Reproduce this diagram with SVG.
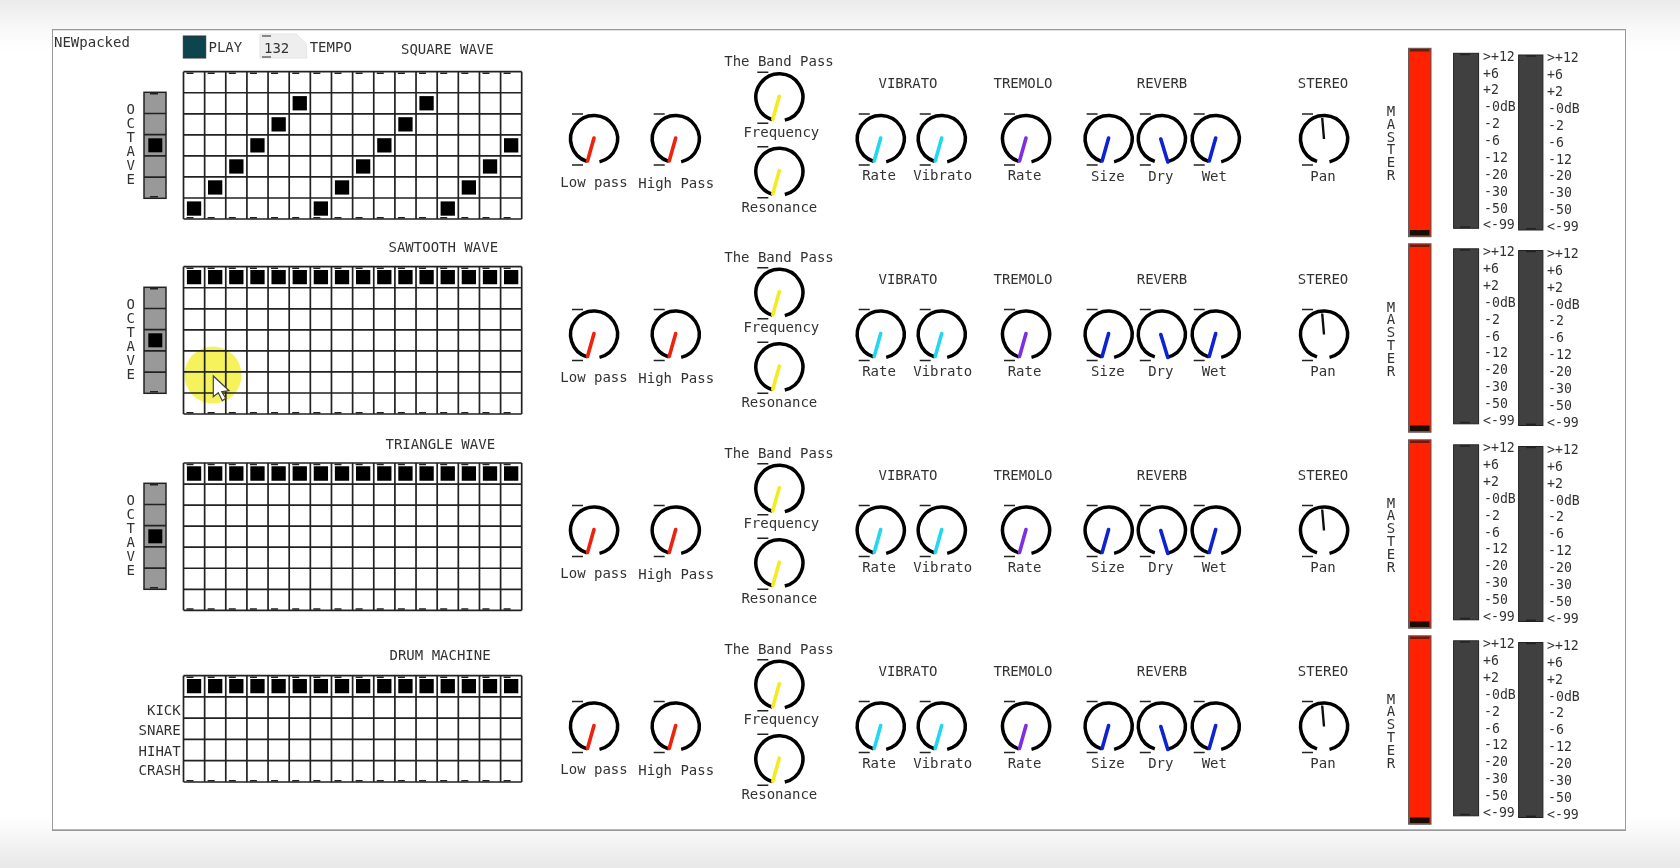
<svg xmlns="http://www.w3.org/2000/svg" width="1680" height="868" viewBox="0 0 1680 868">
<style>
text{font-family:"DejaVu Sans Mono","Liberation Mono",monospace;font-size:14px;fill:#333}
.c{text-anchor:middle}
.r{text-anchor:end}
.v{font-size:13.2px}
.ring{fill:none;stroke:#000;stroke-width:3.5}
.tick{fill:none;stroke:#222;stroke-width:1.6}
.nd{fill:none;stroke-width:3.6;stroke-linecap:round}
.red{stroke:#ee2010}.yel{stroke:#f2ec20}.cya{stroke:#20d8f0}.pur{stroke:#7f2fe0}.blu{stroke:#1020d0}
.gl{fill:none;stroke:#222;stroke-width:1.7}
.dash{stroke:#222;stroke-width:1.6;stroke-dasharray:7 14.14}
.mk{fill:#000}
.full{stroke:#000;stroke-width:14.3;stroke-dasharray:14.3 6.84}
.oct{fill:#999;stroke:#222;stroke-width:1.5}
.fader{fill:#ff2200;stroke:#555;stroke-width:1}
.vu{fill:#404040;stroke:#222;stroke-width:1}
</style>
<defs>
<linearGradient id="bg" x1="0" y1="0" x2="0" y2="1"><stop offset="0" stop-color="#ebebeb"/><stop offset=".035" stop-color="#f9f9f9"/><stop offset=".06" stop-color="#fff"/><stop offset=".94" stop-color="#fff"/><stop offset=".96" stop-color="#f8f8f8"/><stop offset="1" stop-color="#e8e8e8"/></linearGradient>
<filter id="soft" x="0" y="0" width="100%" height="100%"><feGaussianBlur stdDeviation="0.4"/></filter>
<g id="knob"><path class="ring" d="M-7 22.4A23.5 23.5 0 1 1 5.5 22.85"/><path class="tick" d="M-22-25h11M-22 26h11"/></g>
<line id="nL" class="nd" x1="0" y1="-1" x2="-6.5" y2="22"/>
<line id="nR" class="nd" x1="-1" y1="0" x2="6" y2="23"/>
<g id="g7"><path class="gl" d="M0 0V147.3M21.14 0V147.3M42.28 0V147.3M63.42 0V147.3M84.56 0V147.3M105.7 0V147.3M126.84 0V147.3M147.98 0V147.3M169.12 0V147.3M190.26 0V147.3M211.4 0V147.3M232.54 0V147.3M253.68 0V147.3M274.82 0V147.3M295.96 0V147.3M317.1 0V147.3M338.2 0V147.3M0 0H338.2M0 21.05H338.2M0 42.1H338.2M0 63.15H338.2M0 84.2H338.2M0 105.25H338.2M0 126.3H338.2M0 147.3H338.2"/><line class="dash" x1="3" y1="1.5" x2="338" y2="1.5"/><line class="dash" x1="3" y1="146" x2="338" y2="146"/></g>
<g id="g5"><path class="gl" d="M0 0V106.3M21.14 0V106.3M42.28 0V106.3M63.42 0V106.3M84.56 0V106.3M105.7 0V106.3M126.84 0V106.3M147.98 0V106.3M169.12 0V106.3M190.26 0V106.3M211.4 0V106.3M232.54 0V106.3M253.68 0V106.3M274.82 0V106.3M295.96 0V106.3M317.1 0V106.3M338.2 0V106.3M0 0H338.2M0 21.25H338.2M0 42.5H338.2M0 63.75H338.2M0 85H338.2M0 106.3H338.2"/><line class="dash" x1="3" y1="1.5" x2="338" y2="1.5"/><line class="dash" x1="3" y1="105" x2="338" y2="105"/></g>
<g id="octbox"><rect class="oct" x="0" y="0" width="22" height="106"/><path class="gl" d="M0 21.2H22M0 42.4H22M0 63.6H22M0 84.8H22"/><rect class="mk" x="4.3" y="46" width="14" height="14"/><path class="tick" d="M6 1.5h8M6 104.5h8"/></g>
<g id="meter"><rect class="fader" x="1408.6" y="48.3" width="22.4" height="188.4"/><rect x="1410" y="49" width="19.5" height="2.5" fill="#6a1a10"/><rect x="1410" y="230" width="19.5" height="5.5" fill="#1a0a05"/>
<rect class="vu" x="1453.6" y="53.3" width="25" height="175"/><rect class="vu" x="1518.6" y="55" width="24.3" height="175"/><path class="tick" d="M1460 54.5h10M1460 227h10M1526 56h10M1526 228.7h10" stroke="#111"/></g>
</defs>
<rect width="1680" height="868" fill="url(#bg)"/>
<g id="patch" filter="url(#soft)">
<rect x="52" y="29.3" width="1574" height="801" fill="#fff" stroke="#999" stroke-width="2"/>

<g id="header">
<text x="54" y="46.7">NEWpacked</text>
<g id="play"><rect x="183.3" y="36" width="22.4" height="22" fill="#0d4550" stroke="#333" stroke-width="1"/><text x="208.5" y="52.3">PLAY</text></g>
<g id="tempo"><path d="M260 34H296L306.7 44V58H260Z" fill="#eee" stroke="#e4e4e4"/><path d="M262 36h9M262 57h9" stroke="#888" stroke-width="2" fill="none"/><text x="264" y="52.7">132</text><text x="309.7" y="52.3">TEMPO</text></g>
</g>

<g id="square-wave">
<text x="401" y="54.3">SQUARE WAVE</text>
<use id="grid1" href="#g7" x="183.5" y="71.7"/>
<rect class="mk" x="186.9" y="201.4" width="14.3" height="14.3"/><rect class="mk" x="208" y="180.3" width="14.3" height="14.3"/><rect class="mk" x="229.2" y="159.3" width="14.3" height="14.3"/><rect class="mk" x="250.3" y="138.2" width="14.3" height="14.3"/><rect class="mk" x="271.5" y="117.2" width="14.3" height="14.3"/><rect class="mk" x="292.6" y="96.1" width="14.3" height="14.3"/><rect class="mk" x="313.7" y="201.4" width="14.3" height="14.3"/><rect class="mk" x="334.9" y="180.3" width="14.3" height="14.3"/><rect class="mk" x="356" y="159.3" width="14.3" height="14.3"/><rect class="mk" x="377.2" y="138.2" width="14.3" height="14.3"/><rect class="mk" x="398.3" y="117.2" width="14.3" height="14.3"/><rect class="mk" x="419.4" y="96.1" width="14.3" height="14.3"/><rect class="mk" x="440.6" y="201.4" width="14.3" height="14.3"/><rect class="mk" x="461.7" y="180.3" width="14.3" height="14.3"/><rect class="mk" x="482.9" y="159.3" width="14.3" height="14.3"/><rect class="mk" x="504" y="138.2" width="14.3" height="14.3"/>
<use href="#octbox" x="144" y="92.3"/>
<text class="c"><tspan x="130.7" y="114">O</tspan><tspan x="130.7" dy="14">C</tspan><tspan x="130.7" dy="14">T</tspan><tspan x="130.7" dy="14">A</tspan><tspan x="130.7" dy="14">V</tspan><tspan x="130.7" dy="14">E</tspan></text>
</g>

<g id="sawtooth-wave">
<text x="388.5" y="252">SAWTOOTH WAVE</text>
<circle cx="213" cy="375" r="28.5" fill="#f6f25c"/>
<use id="grid2" href="#g7" x="183.5" y="266.7"/>
<line class="full" x1="186.9" y1="277.2" x2="518.5" y2="277.2"/>
<use href="#octbox" x="144" y="287.3"/>
<text class="c"><tspan x="130.7" y="309">O</tspan><tspan x="130.7" dy="14">C</tspan><tspan x="130.7" dy="14">T</tspan><tspan x="130.7" dy="14">A</tspan><tspan x="130.7" dy="14">V</tspan><tspan x="130.7" dy="14">E</tspan></text>
</g>

<g id="triangle-wave">
<text x="385.5" y="449">TRIANGLE WAVE</text>
<use id="grid3" href="#g7" x="183.5" y="463"/>
<line class="full" x1="186.9" y1="473.5" x2="518.5" y2="473.5"/>
<use href="#octbox" x="144" y="483.3"/>
<text class="c"><tspan x="130.7" y="505">O</tspan><tspan x="130.7" dy="14">C</tspan><tspan x="130.7" dy="14">T</tspan><tspan x="130.7" dy="14">A</tspan><tspan x="130.7" dy="14">V</tspan><tspan x="130.7" dy="14">E</tspan></text>
</g>

<g id="drum-machine">
<text x="389.5" y="660">DRUM MACHINE</text>
<use id="grid4" href="#g5" x="183.5" y="675.7"/>
<line class="full" x1="186.9" y1="686.2" x2="518.5" y2="686.2"/>
<text class="r" x="180.7" y="715">KICK</text><text class="r" x="180.7" y="735">SNARE</text><text class="r" x="180.7" y="755.7">HIHAT</text><text class="r" x="180.7" y="775">CRASH</text>
</g>

<g id="row1">
<g transform="translate(594 139)"><use href="#knob"/><use href="#nL" class="red"/><text class="c" x="0" y="47.7">Low pass</text></g>
<g transform="translate(675.7 139)"><use href="#knob"/><use href="#nL" class="red"/><text class="c" x="0.5" y="48.7">High Pass</text></g>
<text class="c" x="779" y="66">The Band Pass</text>
<g transform="translate(779.3 97.3)"><use href="#knob"/><use href="#nL" class="yel"/><text class="c" x="2" y="39.7">Frequency</text></g>
<g transform="translate(779.3 171.7)"><use href="#knob"/><use href="#nL" class="yel"/><text class="c" y="40">Resonance</text></g>
<text class="c" x="908" y="88.3">VIBRATO</text>
<g transform="translate(880.7 139)"><use href="#knob"/><use href="#nL" class="cya"/><text class="c" x="-1.7" y="41">Rate</text></g>
<g transform="translate(941.7 139)"><use href="#knob"/><use href="#nL" class="cya"/><text class="c" x="1" y="41">Vibrato</text></g>
<text class="c" x="1023" y="88.3">TREMOLO</text>
<g transform="translate(1026 139)"><use href="#knob"/><use href="#nL" class="pur"/><text class="c" x="-1.5" y="41">Rate</text></g>
<text class="c" x="1162" y="88.3">REVERB</text>
<g transform="translate(1108.6 139)"><use href="#knob"/><use href="#nL" class="blu"/><text class="c" x="-0.7" y="41.5">Size</text></g>
<g transform="translate(1161.8 139)"><use href="#knob"/><use href="#nR" class="blu"/><text class="c" x="-1" y="41.5">Dry</text></g>
<g transform="translate(1215.7 139)"><use href="#knob"/><use href="#nL" class="blu"/><text class="c" x="-1.4" y="41.5">Wet</text></g>
<text class="c" x="1323" y="88.3">STEREO</text>
<g transform="translate(1324 139)"><use href="#knob"/><path d="M0 0L-1.8-21" stroke="#111" stroke-width="2.4" fill="none"/><text class="c" x="-1" y="41.5">Pan</text></g>
<text class="c"><tspan x="1391" y="116">M</tspan><tspan x="1391" dy="12.8">A</tspan><tspan x="1391" dy="12.8">S</tspan><tspan x="1391" dy="12.8">T</tspan><tspan x="1391" dy="12.8">E</tspan><tspan x="1391" dy="12.8">R</tspan></text>
<use href="#meter"/>
<text class="v"><tspan x="1483" y="60.7">&gt;+12</tspan><tspan x="1483" dy="16.87">+6</tspan><tspan x="1483" dy="16.87">+2</tspan><tspan x="1484" dy="16.87">-0dB</tspan><tspan x="1484" dy="16.87">-2</tspan><tspan x="1484" dy="16.87">-6</tspan><tspan x="1484" dy="16.87">-12</tspan><tspan x="1484" dy="16.87">-20</tspan><tspan x="1484" dy="16.87">-30</tspan><tspan x="1484" dy="16.87">-50</tspan><tspan x="1483" dy="16.87">&lt;-99</tspan></text>
<text class="v"><tspan x="1547" y="62.4">&gt;+12</tspan><tspan x="1547" dy="16.87">+6</tspan><tspan x="1547" dy="16.87">+2</tspan><tspan x="1548" dy="16.87">-0dB</tspan><tspan x="1548" dy="16.87">-2</tspan><tspan x="1548" dy="16.87">-6</tspan><tspan x="1548" dy="16.87">-12</tspan><tspan x="1548" dy="16.87">-20</tspan><tspan x="1548" dy="16.87">-30</tspan><tspan x="1548" dy="16.87">-50</tspan><tspan x="1547" dy="16.87">&lt;-99</tspan></text>
</g>

<g id="row2" transform="translate(0 195.5)">
<g transform="translate(594 139)"><use href="#knob"/><use href="#nL" class="red"/><text class="c" x="0" y="47.7">Low pass</text></g>
<g transform="translate(675.7 139)"><use href="#knob"/><use href="#nL" class="red"/><text class="c" x="0.5" y="48.7">High Pass</text></g>
<text class="c" x="779" y="66">The Band Pass</text>
<g transform="translate(779.3 97.3)"><use href="#knob"/><use href="#nL" class="yel"/><text class="c" x="2" y="39.7">Frequency</text></g>
<g transform="translate(779.3 171.7)"><use href="#knob"/><use href="#nL" class="yel"/><text class="c" y="40">Resonance</text></g>
<text class="c" x="908" y="88.3">VIBRATO</text>
<g transform="translate(880.7 139)"><use href="#knob"/><use href="#nL" class="cya"/><text class="c" x="-1.7" y="41">Rate</text></g>
<g transform="translate(941.7 139)"><use href="#knob"/><use href="#nL" class="cya"/><text class="c" x="1" y="41">Vibrato</text></g>
<text class="c" x="1023" y="88.3">TREMOLO</text>
<g transform="translate(1026 139)"><use href="#knob"/><use href="#nL" class="pur"/><text class="c" x="-1.5" y="41">Rate</text></g>
<text class="c" x="1162" y="88.3">REVERB</text>
<g transform="translate(1108.6 139)"><use href="#knob"/><use href="#nL" class="blu"/><text class="c" x="-0.7" y="41.5">Size</text></g>
<g transform="translate(1161.8 139)"><use href="#knob"/><use href="#nR" class="blu"/><text class="c" x="-1" y="41.5">Dry</text></g>
<g transform="translate(1215.7 139)"><use href="#knob"/><use href="#nL" class="blu"/><text class="c" x="-1.4" y="41.5">Wet</text></g>
<text class="c" x="1323" y="88.3">STEREO</text>
<g transform="translate(1324 139)"><use href="#knob"/><path d="M0 0L-1.8-21" stroke="#111" stroke-width="2.4" fill="none"/><text class="c" x="-1" y="41.5">Pan</text></g>
<text class="c"><tspan x="1391" y="116">M</tspan><tspan x="1391" dy="12.8">A</tspan><tspan x="1391" dy="12.8">S</tspan><tspan x="1391" dy="12.8">T</tspan><tspan x="1391" dy="12.8">E</tspan><tspan x="1391" dy="12.8">R</tspan></text>
<use href="#meter"/>
<text class="v"><tspan x="1483" y="60.7">&gt;+12</tspan><tspan x="1483" dy="16.87">+6</tspan><tspan x="1483" dy="16.87">+2</tspan><tspan x="1484" dy="16.87">-0dB</tspan><tspan x="1484" dy="16.87">-2</tspan><tspan x="1484" dy="16.87">-6</tspan><tspan x="1484" dy="16.87">-12</tspan><tspan x="1484" dy="16.87">-20</tspan><tspan x="1484" dy="16.87">-30</tspan><tspan x="1484" dy="16.87">-50</tspan><tspan x="1483" dy="16.87">&lt;-99</tspan></text>
<text class="v"><tspan x="1547" y="62.4">&gt;+12</tspan><tspan x="1547" dy="16.87">+6</tspan><tspan x="1547" dy="16.87">+2</tspan><tspan x="1548" dy="16.87">-0dB</tspan><tspan x="1548" dy="16.87">-2</tspan><tspan x="1548" dy="16.87">-6</tspan><tspan x="1548" dy="16.87">-12</tspan><tspan x="1548" dy="16.87">-20</tspan><tspan x="1548" dy="16.87">-30</tspan><tspan x="1548" dy="16.87">-50</tspan><tspan x="1547" dy="16.87">&lt;-99</tspan></text>
</g>

<g id="row3" transform="translate(0 391.5)">
<g transform="translate(594 139)"><use href="#knob"/><use href="#nL" class="red"/><text class="c" x="0" y="47.7">Low pass</text></g>
<g transform="translate(675.7 139)"><use href="#knob"/><use href="#nL" class="red"/><text class="c" x="0.5" y="48.7">High Pass</text></g>
<text class="c" x="779" y="66">The Band Pass</text>
<g transform="translate(779.3 97.3)"><use href="#knob"/><use href="#nL" class="yel"/><text class="c" x="2" y="39.7">Frequency</text></g>
<g transform="translate(779.3 171.7)"><use href="#knob"/><use href="#nL" class="yel"/><text class="c" y="40">Resonance</text></g>
<text class="c" x="908" y="88.3">VIBRATO</text>
<g transform="translate(880.7 139)"><use href="#knob"/><use href="#nL" class="cya"/><text class="c" x="-1.7" y="41">Rate</text></g>
<g transform="translate(941.7 139)"><use href="#knob"/><use href="#nL" class="cya"/><text class="c" x="1" y="41">Vibrato</text></g>
<text class="c" x="1023" y="88.3">TREMOLO</text>
<g transform="translate(1026 139)"><use href="#knob"/><use href="#nL" class="pur"/><text class="c" x="-1.5" y="41">Rate</text></g>
<text class="c" x="1162" y="88.3">REVERB</text>
<g transform="translate(1108.6 139)"><use href="#knob"/><use href="#nL" class="blu"/><text class="c" x="-0.7" y="41.5">Size</text></g>
<g transform="translate(1161.8 139)"><use href="#knob"/><use href="#nR" class="blu"/><text class="c" x="-1" y="41.5">Dry</text></g>
<g transform="translate(1215.7 139)"><use href="#knob"/><use href="#nL" class="blu"/><text class="c" x="-1.4" y="41.5">Wet</text></g>
<text class="c" x="1323" y="88.3">STEREO</text>
<g transform="translate(1324 139)"><use href="#knob"/><path d="M0 0L-1.8-21" stroke="#111" stroke-width="2.4" fill="none"/><text class="c" x="-1" y="41.5">Pan</text></g>
<text class="c"><tspan x="1391" y="116">M</tspan><tspan x="1391" dy="12.8">A</tspan><tspan x="1391" dy="12.8">S</tspan><tspan x="1391" dy="12.8">T</tspan><tspan x="1391" dy="12.8">E</tspan><tspan x="1391" dy="12.8">R</tspan></text>
<use href="#meter"/>
<text class="v"><tspan x="1483" y="60.7">&gt;+12</tspan><tspan x="1483" dy="16.87">+6</tspan><tspan x="1483" dy="16.87">+2</tspan><tspan x="1484" dy="16.87">-0dB</tspan><tspan x="1484" dy="16.87">-2</tspan><tspan x="1484" dy="16.87">-6</tspan><tspan x="1484" dy="16.87">-12</tspan><tspan x="1484" dy="16.87">-20</tspan><tspan x="1484" dy="16.87">-30</tspan><tspan x="1484" dy="16.87">-50</tspan><tspan x="1483" dy="16.87">&lt;-99</tspan></text>
<text class="v"><tspan x="1547" y="62.4">&gt;+12</tspan><tspan x="1547" dy="16.87">+6</tspan><tspan x="1547" dy="16.87">+2</tspan><tspan x="1548" dy="16.87">-0dB</tspan><tspan x="1548" dy="16.87">-2</tspan><tspan x="1548" dy="16.87">-6</tspan><tspan x="1548" dy="16.87">-12</tspan><tspan x="1548" dy="16.87">-20</tspan><tspan x="1548" dy="16.87">-30</tspan><tspan x="1548" dy="16.87">-50</tspan><tspan x="1547" dy="16.87">&lt;-99</tspan></text>
</g>

<g id="row4" transform="translate(0 587.5)">
<g transform="translate(594 139)"><use href="#knob"/><use href="#nL" class="red"/><text class="c" x="0" y="47.7">Low pass</text></g>
<g transform="translate(675.7 139)"><use href="#knob"/><use href="#nL" class="red"/><text class="c" x="0.5" y="48.7">High Pass</text></g>
<text class="c" x="779" y="66">The Band Pass</text>
<g transform="translate(779.3 97.3)"><use href="#knob"/><use href="#nL" class="yel"/><text class="c" x="2" y="39.7">Frequency</text></g>
<g transform="translate(779.3 171.7)"><use href="#knob"/><use href="#nL" class="yel"/><text class="c" y="40">Resonance</text></g>
<text class="c" x="908" y="88.3">VIBRATO</text>
<g transform="translate(880.7 139)"><use href="#knob"/><use href="#nL" class="cya"/><text class="c" x="-1.7" y="41">Rate</text></g>
<g transform="translate(941.7 139)"><use href="#knob"/><use href="#nL" class="cya"/><text class="c" x="1" y="41">Vibrato</text></g>
<text class="c" x="1023" y="88.3">TREMOLO</text>
<g transform="translate(1026 139)"><use href="#knob"/><use href="#nL" class="pur"/><text class="c" x="-1.5" y="41">Rate</text></g>
<text class="c" x="1162" y="88.3">REVERB</text>
<g transform="translate(1108.6 139)"><use href="#knob"/><use href="#nL" class="blu"/><text class="c" x="-0.7" y="41.5">Size</text></g>
<g transform="translate(1161.8 139)"><use href="#knob"/><use href="#nR" class="blu"/><text class="c" x="-1" y="41.5">Dry</text></g>
<g transform="translate(1215.7 139)"><use href="#knob"/><use href="#nL" class="blu"/><text class="c" x="-1.4" y="41.5">Wet</text></g>
<text class="c" x="1323" y="88.3">STEREO</text>
<g transform="translate(1324 139)"><use href="#knob"/><path d="M0 0L-1.8-21" stroke="#111" stroke-width="2.4" fill="none"/><text class="c" x="-1" y="41.5">Pan</text></g>
<text class="c"><tspan x="1391" y="116">M</tspan><tspan x="1391" dy="12.8">A</tspan><tspan x="1391" dy="12.8">S</tspan><tspan x="1391" dy="12.8">T</tspan><tspan x="1391" dy="12.8">E</tspan><tspan x="1391" dy="12.8">R</tspan></text>
<use href="#meter"/>
<text class="v"><tspan x="1483" y="60.7">&gt;+12</tspan><tspan x="1483" dy="16.87">+6</tspan><tspan x="1483" dy="16.87">+2</tspan><tspan x="1484" dy="16.87">-0dB</tspan><tspan x="1484" dy="16.87">-2</tspan><tspan x="1484" dy="16.87">-6</tspan><tspan x="1484" dy="16.87">-12</tspan><tspan x="1484" dy="16.87">-20</tspan><tspan x="1484" dy="16.87">-30</tspan><tspan x="1484" dy="16.87">-50</tspan><tspan x="1483" dy="16.87">&lt;-99</tspan></text>
<text class="v"><tspan x="1547" y="62.4">&gt;+12</tspan><tspan x="1547" dy="16.87">+6</tspan><tspan x="1547" dy="16.87">+2</tspan><tspan x="1548" dy="16.87">-0dB</tspan><tspan x="1548" dy="16.87">-2</tspan><tspan x="1548" dy="16.87">-6</tspan><tspan x="1548" dy="16.87">-12</tspan><tspan x="1548" dy="16.87">-20</tspan><tspan x="1548" dy="16.87">-30</tspan><tspan x="1548" dy="16.87">-50</tspan><tspan x="1547" dy="16.87">&lt;-99</tspan></text>
</g>

<g id="cursor"><path d="M213.3 376V396.7L218.3 392.7 222.3 400.7 225.7 398.3 221.7 391.7 229 390.7Z" fill="#fff" stroke="#444" stroke-width="1.2"/></g>
</g>
</svg>
